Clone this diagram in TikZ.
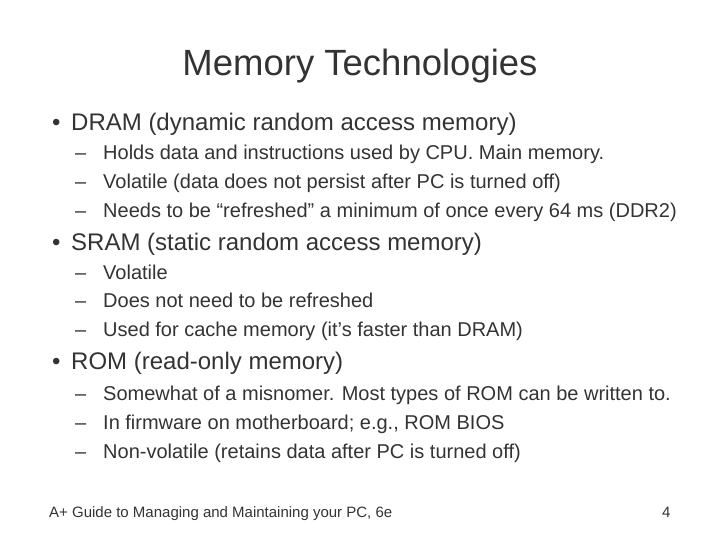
\documentclass[tikz,border=0pt]{standalone}
\usepackage{fontspec}
\setmainfont{Liberation Sans}
\tikzset{x=1pt,y=-1pt}
\tikzset{title/.style={font=\fontsize{36.5}{40}\selectfont,text=black!80,anchor=base}}
\tikzset{lvlone/.style={font=\fontsize{24}{28}\selectfont,text=black!80,anchor=base west,inner sep=0}}
\tikzset{lvltwo/.style={font=\fontsize{20}{24}\selectfont,text=black!80,anchor=base west,inner sep=0}}
\tikzset{foot/.style={font=\fontsize{15}{18}\selectfont,text=black!80,anchor=base west,inner sep=0}}
\begin{document}
\begin{tikzpicture}
\useasboundingbox (0,0) rectangle (720,540);
\node [title] (ttl) at (360,76) {Memory Technologies};
% DRAM
\node [lvlone] (b1) at (52,131) {•};
\node [lvlone] (t1) at (71,131) {DRAM (dynamic random access memory)};
\foreach \y/\txt [count=\i] in {160/{Holds data and instructions used by CPU. Main memory.},
  189/{Volatile (data does not persist after PC is turned off)},
  218/{Needs to be “refreshed” a minimum of once every 64 ms (DDR2)}} {
  \node [lvltwo] (d\i) at (75,\y) {–};
  \node [lvltwo] (s\i) at (103,\y) {\txt};
}
% SRAM
\node [lvlone] (b2) at (52,251) {•};
\node [lvlone] (t2) at (71,251) {SRAM (static random access memory)};
\foreach \y/\txt [count=\i] in {279/{Volatile},
  307/{Does not need to be refreshed},
  336/{Used for cache memory (it’s faster than DRAM)}} {
  \node [lvltwo] (e\i) at (75,\y) {–};
  \node [lvltwo] (r\i) at (103,\y) {\txt};
}
% ROM
\node [lvlone] (b3) at (52,369) {•};
\node [lvlone] (t3) at (71,369) {ROM (read-only memory)};
\foreach \y/\txt [count=\i] in {400/{Somewhat of a misnomer. Most types of ROM can be written to.},
  429/{In firmware on motherboard; e.g., ROM BIOS},
  458/{Non-volatile (retains data after PC is turned off)}} {
  \node [lvltwo] (f\i) at (75,\y) {–};
  \node [lvltwo] (q\i) at (103,\y) {\txt};
}
\node [foot] (src) at (49,517) {A+ Guide to Managing and Maintaining your PC, 6e};
\node [foot] (pg) at (662,517) {4};
\end{tikzpicture}
\end{document}
